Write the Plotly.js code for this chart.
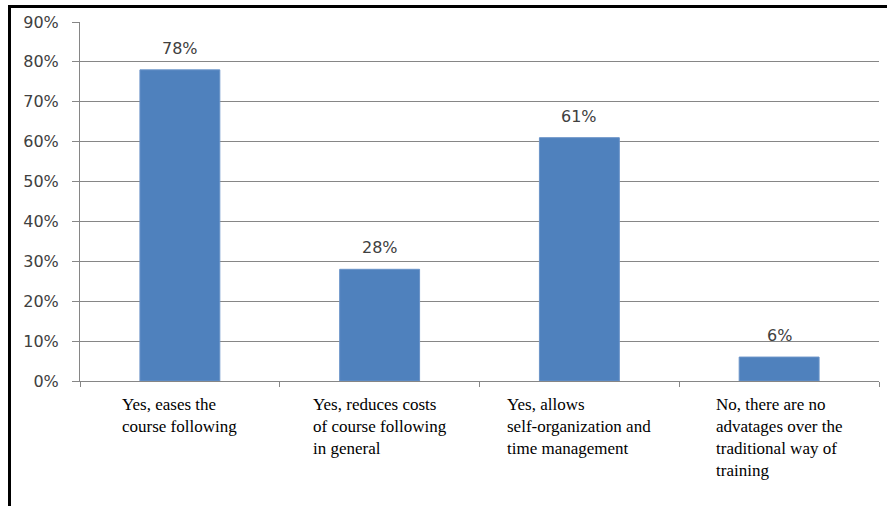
<!DOCTYPE html>
<html>
<head>
<meta charset="utf-8">
<script src="https://cdn.plot.ly/plotly-3.0.1.min.js"></script>
<style>
html,body{margin:0;padding:0;background:#fff;width:887px;height:506px;overflow:hidden;}
#frame{position:absolute;left:8px;top:5px;width:876px;height:498px;border-left:3px solid #000;border-top:3px solid #000;}
#chart{width:876px;height:498px;}
</style>
</head>
<body>
<div id="frame"><div id="chart"></div></div>
<script>
const categories = [
  "Yes, eases the<br>course following",
  "Yes, reduces costs<br>of course following<br>in general",
  "Yes, allows<br>self-organization and<br>time management",
  "No, there are no<br>advatages over the<br>traditional way of<br>training"
];
const values = [78, 28, 61, 6];
const yTicks = [0, 10, 20, 30, 40, 50, 60, 70, 80, 90];
const yTickLabels = yTicks.map(v => v + "%");

const trace = {
  type: "bar",
  x: categories,
  y: values,
  marker: {color: "#4F81BD", line: {color: "#6A93C8", width: 1}},
  width: 0.4,
  hoverinfo: "none"
};

const annotations = [];
categories.forEach((c, i) => {
  annotations.push({
    x: c, y: values[i], xref: "x", yref: "y",
    text: values[i] + "%", showarrow: false,
    yanchor: "bottom", yshift: 10,
    font: {family: "DejaVu Sans", size: 16, color: "#404040"}
  });
  annotations.push({
    x: c, y: 0, xref: "x", yref: "y",
    text: c, showarrow: false,
    xanchor: "center", yanchor: "top", align: "left", yshift: -12,
    font: {family: "'Liberation Serif', 'Times New Roman', serif", size: 17, color: "#000"}
  });
});

const layout = {
  width: 876, height: 498,
  margin: {l: 69, r: 8, t: 14, b: 125},
  paper_bgcolor: "#fff", plot_bgcolor: "#fff",
  showlegend: false,
  bargap: 0.6,
  xaxis: {
    type: "category",
    showticklabels: false,
    showline: true, linecolor: "#868686", linewidth: 1,
    ticks: "outside", tickson: "boundaries", ticklen: 5, tickcolor: "#868686",
    showgrid: false, zeroline: false, fixedrange: true
  },
  yaxis: {
    range: [0, 90],
    tickvals: yTicks, ticktext: yTickLabels,
    showline: true, linecolor: "#868686", linewidth: 1,
    ticks: "outside", ticklen: 7, tickcolor: "#868686",
    showgrid: true, gridcolor: "#868686", gridwidth: 1,
    zeroline: false,
    tickfont: {family: "DejaVu Sans", size: 16, color: "#404040"},
    ticklabelstandoff: 10,
    fixedrange: true
  },
  annotations: annotations
};

Plotly.newPlot("chart", [trace], layout, {displayModeBar: false, staticPlot: true});
</script>
</body>
</html>
